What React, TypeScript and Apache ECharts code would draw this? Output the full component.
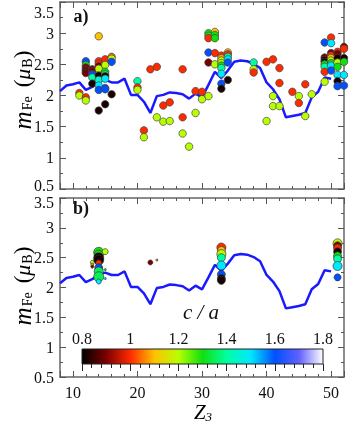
import React, { useEffect, useRef } from 'react';
import * as echarts from 'echarts';

// Blue reference line (Z3 vs m_Fe)
const lineZ = [8,9,10,11,12,13,14,15,16,17,18,19,20,21,22,23,24,25,26,27,28,29,30,31,32,33,34,35,36,37,38,39,40,41,42,43,44,45,46,47,48,49,50];
const lineM = [2.07,2.16,2.18,2.21,2.09,2.14,2.22,2.25,2.21,2.21,2.27,2.01,2.01,1.90,1.72,1.99,2.01,2.05,2.04,2.02,1.95,2.03,1.97,2.17,2.38,2.28,2.40,2.54,2.56,2.55,2.51,2.44,2.21,2.10,1.94,1.65,1.67,1.69,1.72,1.97,2.06,2.29,2.27];

// Panel a) points: [Z3, m_Fe, c/a]
const pointsA: number[][] = [
  [11,2.04,1.0],[11,2.00,1.2],
  [12,2.55,1.6],[12,2.49,1.3],[12,2.45,0.9],[12,2.41,0.9],[12,2.38,0.82],[12,2.36,0.9],[12,1.97,1.0],[12,1.92,1.2],
  [13,2.42,0.9],[13,2.39,0.9],[13,2.34,1.6],[13,2.29,1.4],[13,2.19,0.82],
  [14,2.95,1.1],[14,2.55,1.0],[14,2.51,1.0],[14,2.47,0.9],[14,2.43,1.2],[14,2.32,0.82],[14,2.25,1.45],[14,2.16,1.5],[14,2.09,1.6],[14,1.76,0.82],
  [15,2.58,1.0],[15,2.49,1.2],[15,2.38,1.3],[15,2.34,1.35],[15,2.31,0.82],[15,2.27,1.5],[15,2.12,1.6],[15,2.10,1.6],[15,1.86,0.82],
  [16,2.62,1.05],[16,2.59,1.2],[16,2.54,1.6],[16,2.02,0.82],
  [20,2.23,1.4],[20,2.13,1.0],[20,2.09,1.2],
  [21,1.44,1.0],[21,1.33,1.2],
  [22,2.42,1.0],
  [23,2.46,1.0],[23,1.65,1.2],
  [24,1.84,1.0],[24,1.58,1.2],
  [25,1.89,1.0],[25,1.59,1.2],
  [27,2.42,1.0],[27,1.65,1.0],[27,1.39,1.2],
  [28,1.18,1.2],
  [29,2.07,1.0],[29,1.72,1.2],
  [30,2.06,1.0],[30,1.94,1.2],
  [31,3.00,1.3],[31,2.96,1.3],[31,2.92,1.0],[31,2.69,1.6],[31,2.53,0.9],[31,1.99,1.2],
  [32,3.02,1.1],[32,2.97,1.3],[32,2.92,1.3],[32,2.68,1.0],[32,2.50,1.2],
  [33,2.64,1.0],[33,2.60,1.08],[33,2.56,1.2],[33,2.52,1.2],[33,2.48,1.3],[33,2.44,1.4],[33,2.35,1.5],[33,2.19,1.6],[33,2.11,0.82],
  [34,2.69,1.1],[34,2.66,1.0],[34,2.62,1.4],[34,2.58,1.5],[34,2.53,1.6],[34,2.25,0.82],
  [38,2.53,1.4],[38,2.42,1.2],[38,2.37,1.0],
  [40,2.54,1.0],[40,1.59,1.2],
  [41,2.58,1.0],[41,1.99,1.2],[41,1.83,1.2],
  [42,2.44,1.0],[42,2.20,1.0],[42,1.83,1.2],
  [44,2.06,1.0],
  [45,1.99,1.2],[45,1.88,1.0],
  [46,2.18,1.0],[46,1.67,1.2],
  [47,2.02,1.2],
  [49,2.85,1.6],[49,2.61,0.9],[49,2.57,0.82],[49,2.54,0.82],[49,2.50,1.3],[49,2.46,1.4],[49,2.38,1.0],[49,2.22,1.2],
  [50,2.93,1.0],[50,2.84,1.5],[50,2.68,0.9],[50,2.64,1.0],[50,2.60,1.1],[50,2.56,1.2],[50,2.52,1.3],[50,2.48,1.5],[50,2.40,1.6],
  [51,2.70,1.0],[51,2.67,0.9],[51,2.60,0.82],[51,2.53,1.2],[51,2.46,1.3],[51,2.33,1.5],[51,2.23,0.82],[51,2.15,1.6],
  [52,2.78,0.9],[52,2.75,1.0],[52,2.60,0.82],[52,2.54,1.3],[52,2.33,1.5],[52,2.16,1.6],
];

// Panel b) weighted points: [Z3, m_Fe, c/a, weight(size)]
const pointsB: number[][] = [
  [14,2.59,1.3,10],[14,2.55,1.3,9],[14,2.50,0.82,10],[14,2.46,0.82,10],[14,2.41,1.0,6],[14,2.33,1.6,8],[14,2.27,1.35,9],[14,2.18,1.35,10],[14,2.10,1.5,5],
  [15,2.60,1.2,6],[13,2.42,1.2,4],[13,2.38,1.1,3],[13,2.35,0.9,3],[15,2.30,1.3,2],[15,2.15,1.5,2],
  [22,2.42,0.9,5],[23,2.46,1.1,2],
  [33,2.67,1.0,9],[33,2.62,1.1,8],[33,2.56,1.2,9],[33,2.50,1.4,8],[33,2.37,1.5,9],[33,2.22,1.6,8],[33,2.15,0.82,8],[33,2.12,0.82,8],
  [51,2.74,1.2,9],[51,2.70,0.9,8],[51,2.66,1.0,8],[51,2.60,0.82,8],[51,2.53,1.3,8],[51,2.48,1.4,8],[51,2.36,1.5,9],[51,2.17,1.6,7],
];

// Colour map for c/a from 0.8 to 1.8 (every 0.1)
const caMin = 0.8;
const caMax = 1.8;
const caColors = ['#000000','#7a0000','#ff2a00','#ffc000','#b8ff00','#10e010','#00ffa0','#00e8ff','#0050ff','#6060ff','#ffffff'];

const FONT = 'Liberation Serif';

export default function App() {
  const ref = useRef<HTMLDivElement>(null);
  useEffect(() => {
    const chart = echarts.init(ref.current!, null, { renderer: 'svg' });

    const axLine = { show: true, onZero: false, lineStyle: { color: '#666', width: 1.5 } };
    const tick = { show: true, inside: true, length: 6, lineStyle: { color: '#555', width: 1 } };
    const mtick = (n: number) => ({ show: true, splitNumber: n, length: 3, lineStyle: { color: '#555', width: 1 } });

    const xAx = (grid: number, pos: string, labels: boolean) => ({
      type: 'value', gridIndex: grid, position: pos, min: 8, max: 52,
      axisLine: axLine, axisTick: tick, minorTick: mtick(5), splitLine: { show: false },
      axisLabel: {
        show: labels, fontFamily: FONT, fontSize: 16, color: '#111', margin: 7,
        formatter: (v: number) => (v % 10 === 0 ? String(v) : ''),
      },
    });
    const yAx = (grid: number, pos: string, labels: boolean, topPad: number, botPad: number) => ({
      type: 'value', gridIndex: grid, position: pos, min: 0.5, max: 3.5, interval: 0.5,
      axisLine: axLine, axisTick: tick, minorTick: mtick(2), splitLine: { show: false },
      axisLabel: {
        show: labels, fontFamily: FONT, fontSize: 16, color: '#111', margin: 6,
        formatter: (v: number) => (v === 3.5 ? '{dn|3.5}' : v === 0.5 ? '{up|0.5}' : String(v)),
        rich: {
          dn: { fontFamily: FONT, fontSize: 16, color: '#111', padding: [topPad, 0, 0, 0] },
          up: { fontFamily: FONT, fontSize: 16, color: '#111', padding: [0, 0, botPad, 0] },
        },
      },
    });

    const stops = caColors.map((c, i) => ({ offset: i / (caColors.length - 1), color: c }));

    const yNameRich = {
      m: { fontFamily: FONT, fontStyle: 'italic', fontSize: 25, color: '#111' },
      s: { fontFamily: FONT, fontSize: 14, color: '#111', verticalAlign: 'bottom', padding: [0, 0, 0, 1] },
      p: { fontFamily: FONT, fontSize: 23, color: '#111' },
      mu: { fontFamily: FONT, fontStyle: 'italic', fontSize: 22, color: '#111' },
      g: { fontFamily: FONT, fontSize: 12, width: 9 },
    };
    const yNameText = '{m|m}{s|Fe}{g| }{p|(}{mu|μ}{s|B}{p|)}';

    const option: any = {
      animation: false,
      grid: [
        { left: 60, top: 2, width: 284, height: 187 },
        { left: 60, top: 198, width: 284, height: 179 },
        { left: 82, top: 349, width: 241, height: 15 },
      ],
      xAxis: [
        xAx(0, 'bottom', false),
        xAx(0, 'top', false),
        xAx(1, 'bottom', true),
        xAx(1, 'top', false),
        {
          type: 'value', gridIndex: 2, position: 'top', min: caMin, max: caMax, interval: 0.2, z: 10,
          axisLine: { show: false },
          axisTick: { show: true, inside: true, length: 7, lineStyle: { color: '#222' } },
          minorTick: { show: true, splitNumber: 5, length: 4, lineStyle: { color: '#222' } },
          splitLine: { show: false },
          axisLabel: { fontFamily: FONT, fontSize: 16, color: '#111', margin: 3 },
        },
      ],
      yAxis: [
        yAx(0, 'left', true, 20, 8),
        yAx(0, 'right', false, 0, 0),
        yAx(1, 'left', true, 8, 0),
        yAx(1, 'right', false, 0, 0),
        { type: 'value', gridIndex: 2, show: false },
      ],
      visualMap: {
        type: 'continuous', show: false, min: caMin, max: caMax, dimension: 2,
        seriesIndex: [1, 3], inRange: { color: caColors },
      },
      series: [
        {
          type: 'line', xAxisIndex: 0, yAxisIndex: 0, z: 2, symbol: 'none',
          data: lineZ.map((z, i) => [z, lineM[i]]),
          lineStyle: { color: '#1a1aff', width: 2.5 },
        },
        {
          type: 'scatter', xAxisIndex: 0, yAxisIndex: 0, z: 3, symbolSize: 7.5, clip: true,
          data: pointsA,
          itemStyle: { borderColor: '#444', borderWidth: 0.7, opacity: 1 },
        },
        {
          type: 'line', xAxisIndex: 2, yAxisIndex: 2, z: 2, symbol: 'none',
          data: lineZ.map((z, i) => [z, lineM[i]]),
          lineStyle: { color: '#1a1aff', width: 2.5 },
        },
        {
          type: 'scatter', xAxisIndex: 2, yAxisIndex: 2, z: 3, clip: true,
          symbolSize: (d: number[]) => d[3],
          data: pointsB,
          itemStyle: { borderColor: '#333', borderWidth: 0.7, opacity: 1 },
        },
      ],
      graphic: [
        {
          type: 'rect', z: 0,
          shape: { x: 82, y: 349, width: 241, height: 15 },
          style: { fill: new echarts.graphic.LinearGradient(0, 0, 1, 0, stops), stroke: '#222', lineWidth: 1 },
        },
        {
          type: 'text', x: 22, y: 90, rotation: Math.PI / 2,
          style: { text: yNameText, rich: yNameRich, align: 'center', verticalAlign: 'middle' },
        },
        {
          type: 'text', x: 22, y: 286, rotation: Math.PI / 2,
          style: { text: yNameText, rich: yNameRich, align: 'center', verticalAlign: 'middle' },
        },
        {
          type: 'text', x: 81, y: 16,
          style: { text: 'a)', font: `bold 18px "${FONT}"`, fill: '#111', align: 'center', verticalAlign: 'middle' },
        },
        {
          type: 'text', x: 81, y: 208,
          style: { text: 'b)', font: `bold 18px "${FONT}"`, fill: '#111', align: 'center', verticalAlign: 'middle' },
        },
        {
          type: 'text', x: 201, y: 312,
          style: { text: 'c / a', font: `italic 21px "${FONT}"`, fill: '#111', align: 'center', verticalAlign: 'middle' },
        },
        {
          type: 'text', x: 203, y: 412,
          style: {
            text: '{z|Z}{s|3}', align: 'center', verticalAlign: 'middle',
            rich: {
              z: { fontFamily: FONT, fontStyle: 'italic', fontSize: 21, color: '#111' },
              s: { fontFamily: FONT, fontStyle: 'italic', fontSize: 13, color: '#111', verticalAlign: 'bottom' },
            },
          },
        },
      ],
    };
    chart.setOption(option);
    return () => chart.dispose();
  }, []);
  return <div ref={ref} style={{ position: 'fixed', left: 0, top: 0, width: 353, height: 424 }} />;
}
